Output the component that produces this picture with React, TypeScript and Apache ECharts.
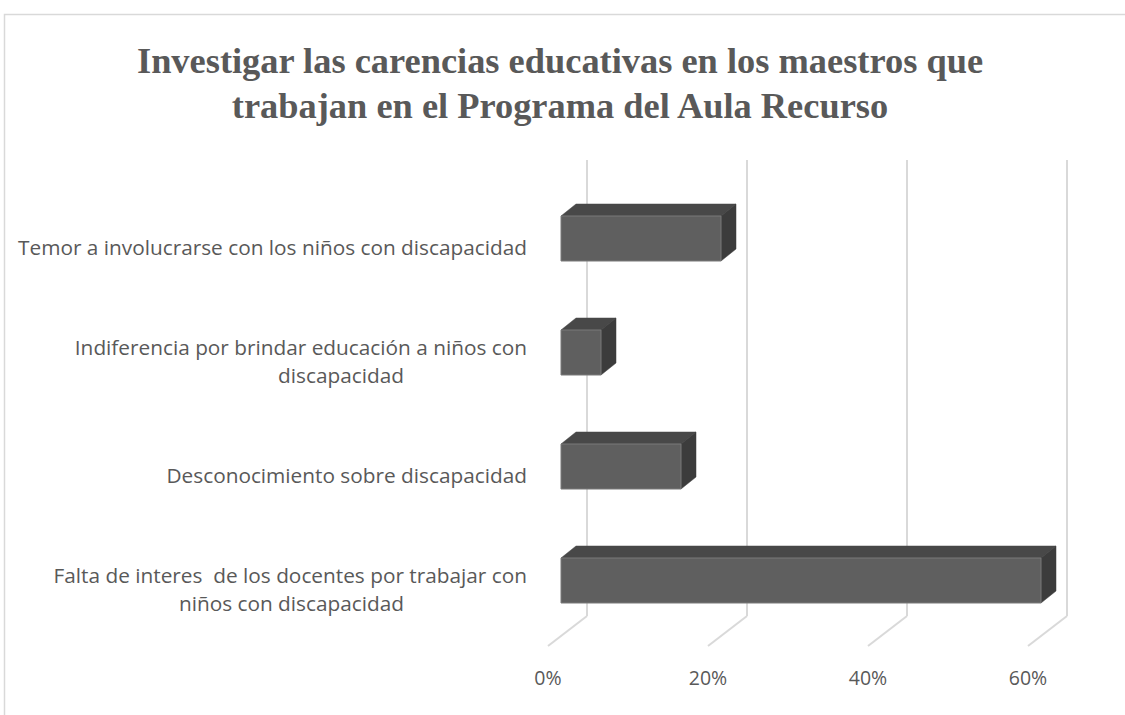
import React, { useEffect, useRef } from "react";
import * as echarts from "echarts";

const titleLines = [
  "Investigar las carencias educativas en los maestros que",
  "trabajan en el Programa del Aula Recurso",
];
const categories = [
  "Temor a involucrarse con los niños con discapacidad",
  "Indiferencia por brindar educación a niños con\ndiscapacidad",
  "Desconocimiento sobre discapacidad",
  "Falta de interes  de los docentes por trabajar con\nniños con discapacidad",
];
const values = [20, 5, 15, 60];
const xTicks = [0, 20, 40, 60];

const LABEL_FONT = "'Open Sans', Lato, sans-serif";

export default function App() {
  const ref = useRef<HTMLDivElement>(null);
  useEffect(() => {
    if (!ref.current) return;
    const chart = echarts.init(ref.current, null, { renderer: "svg" });
    const FDX = -26;
    const FDY = 21.5;
    const BH = 45;
    const DX = 15;
    const DY = -12;
    const option: any = {
      animation: false,
      backgroundColor: "#ffffff",
      title: {
        text: titleLines.join("\n"),
        left: 555,
        top: 33,
        textAlign: "center",
        textStyle: {
          fontFamily: "'Liberation Serif', 'Times New Roman', serif",
          fontWeight: "bold",
          fontSize: 36.4,
          lineHeight: 45,
          color: "#595959",
        },
      },
      graphic: [
        {
          type: "rect",
          shape: { x: 4.5, y: 14.5, width: 1200, height: 800 },
          style: { fill: "none", stroke: "#d9d9d9", lineWidth: 1.5 },
          silent: true,
          z: -10,
        },
      ],
      grid: [
        { left: 587, top: 160, width: 480, height: 456 },
        { left: 548, top: 190, width: 480, height: 456 },
      ],
      xAxis: [
        {
          type: "value",
          gridIndex: 0,
          min: 0,
          max: 60,
          interval: 20,
          axisLabel: { show: false },
          axisLine: { show: false },
          axisTick: { show: false },
          splitLine: { show: true, lineStyle: { color: "#d9d9d9", width: 2 } },
        },
        {
          type: "value",
          gridIndex: 1,
          min: 0,
          max: 60,
          interval: 20,
          axisLabel: {
            show: true,
            formatter: "{value}%",
            margin: 21,
            color: "#595959",
            fontSize: 19.5,
            fontFamily: LABEL_FONT,
          },
          axisLine: { show: false },
          axisTick: { show: false },
          splitLine: { show: false },
        },
      ],
      yAxis: [
        {
          type: "category",
          gridIndex: 0,
          data: categories,
          inverse: true,
          axisLabel: { show: false },
          axisLine: { show: false },
          axisTick: { show: false },
        },
        {
          type: "category",
          gridIndex: 1,
          data: categories,
          inverse: true,
          axisLine: { show: false },
          axisTick: { show: false },
          axisLabel: {
            margin: 21,
            align: "right",
            formatter: (val: string) => {
              const parts = val.split("\n");
              if (parts.length > 1) return `{a|${parts[0]}}\n{b|${parts[1]}}`;
              return `{a|${val}}`;
            },
            rich: {
              a: {
                color: "#595959",
                fontSize: 20.8,
                lineHeight: 28,
                fontFamily: LABEL_FONT,
              },
              b: {
                color: "#595959",
                fontSize: 20.8,
                lineHeight: 28,
                fontFamily: LABEL_FONT,
                padding: [0, 123, 0, 0],
              },
            },
          },
        },
      ],
      series: [
        {
          type: "custom",
          xAxisIndex: 0,
          yAxisIndex: 0,
          data: xTicks.map((t) => [t, 0]),
          encode: { x: 0, y: 1 },
          silent: true,
          renderItem: (params: any, api: any) => {
            const sys = params.coordSys;
            const x = api.coord([api.value(0), 0])[0];
            const yb = sys.y + sys.height;
            return {
              type: "line",
              shape: { x1: x, y1: yb, x2: x - 39, y2: yb + 30 },
              style: { stroke: "#d9d9d9", lineWidth: 2 },
            };
          },
          z: 1,
        },
        {
          type: "custom",
          xAxisIndex: 0,
          yAxisIndex: 0,
          data: values.map((v, i) => [v, i]),
          encode: { x: 0, y: 1 },
          renderItem: (params: any, api: any) => {
            const cat = api.value(1);
            const p0 = api.coord([0, cat]);
            const p1 = api.coord([api.value(0), cat]);
            const x0 = p0[0] + FDX;
            const x1 = p1[0] + FDX;
            const yc = p0[1] + FDY;
            const yt = yc - BH / 2;
            const yb = yc + BH / 2;
            return {
              type: "group",
              children: [
                {
                  type: "polygon",
                  shape: {
                    points: [
                      [x0, yt],
                      [x0 + DX, yt + DY],
                      [x1 + DX, yt + DY],
                      [x1, yt],
                    ],
                  },
                  style: { fill: "#484848", stroke: "#444444", lineWidth: 0.5 },
                },
                {
                  type: "polygon",
                  shape: {
                    points: [
                      [x1, yt],
                      [x1 + DX, yt + DY],
                      [x1 + DX, yb + DY],
                      [x1, yb],
                    ],
                  },
                  style: { fill: "#3c3c3c", stroke: "#3a3a3a", lineWidth: 0.5 },
                },
                {
                  type: "rect",
                  shape: { x: x0, y: yt, width: x1 - x0, height: BH },
                  style: { fill: "#5f5f5f", stroke: "#7a7a7a", lineWidth: 1 },
                },
              ],
            };
          },
          z: 2,
        },
      ],
    };
    chart.setOption(option);
    return () => chart.dispose();
  }, []);
  return (
    <div
      ref={ref}
      style={{ position: "fixed", left: 0, top: 0, width: 1125, height: 715 }}
    />
  );
}
